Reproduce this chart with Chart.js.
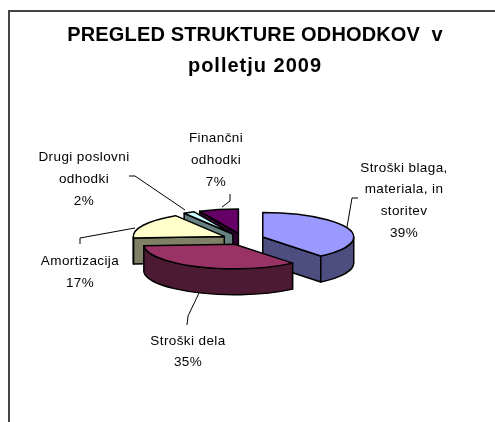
<!DOCTYPE html>
<html>
<head>
<meta charset="utf-8">
<style>
  html, body { margin: 0; padding: 0; background: #fff; overflow: hidden; }
  #wrap { position: relative; width: 495px; height: 422px; }
  #frame { position: absolute; left: 8px; top: 10px; right: 0; bottom: 0; border-left: 2px solid #444; border-top: 2px solid #444; }
  canvas { position: absolute; left: 0; top: 0; }
</style>
<script src="https://cdn.jsdelivr.net/npm/chart.js@4/dist/chart.umd.min.js"></script>
</head>
<body>
<div id="wrap">
  <div id="frame"></div>
  <canvas id="pieChart" width="495" height="422"></canvas>
</div>
<script>
const titleLines = ['PREGLED STRUKTURE ODHODKOV  v', 'polletju 2009'];
const categories = ['Stroški blaga, materiala, in storitev', 'Stroški dela', 'Amortizacija', 'Drugi poslovni odhodki', 'Finančni odhodki'];
const values = [39, 35, 17, 2, 7];
const labelLines = [
  ['Stroški blaga,', 'materiala, in', 'storitev'],
  ['Stroški dela'],
  ['Amortizacija'],
  ['Drugi poslovni', 'odhodki'],
  ['Finančni', 'odhodki']
];
const topColors = ['#9999ff', '#993366', '#ffffcc', '#ccffff', '#660066'];
const sideColors = ['#4d4d80', '#4d1a33', '#808066', '#668080', '#330033'];

// where each label sits: center x, y of every line (percent is the last one)
const labelX = [404, 188, 80, 84, 216];
const labelY = [[168, 189, 211, 233], [341, 362], [261, 283], [157, 179, 201], [138, 160, 182]];
const leaders = [
  [[347, 227], [352, 198], [358, 198]],
  [[199, 293], [188, 316], [187, 325]],
  [[135, 228], [80, 238], [80, 244]],
  [[185, 210], [135, 176], [129, 176]],
  [[222, 207], [230, 201], [230, 194]]
];

const squash = 0.27;    // flatten the pie into an ellipse
const depth = 26;       // height of the side walls

function sliceCenter(arc) {
  const mid = (arc.startAngle + arc.endAngle) / 2;
  return {
    x: arc.x + Math.cos(mid) * arc.options.offset,
    y: arc.y + Math.sin(mid) * arc.options.offset * squash
  };
}

function paint(ctx, fill) {
  ctx.closePath();
  ctx.fillStyle = fill;
  ctx.fill();
  ctx.lineWidth = 1.5;
  ctx.strokeStyle = '#000';
  ctx.lineJoin = 'round';
  ctx.stroke();
}

function radialWall(ctx, arc, angle, fill) {
  const c = sliceCenter(arc);
  const px = c.x + Math.cos(angle) * arc.outerRadius;
  const py = c.y + Math.sin(angle) * arc.outerRadius * squash;
  ctx.beginPath();
  ctx.moveTo(c.x, c.y);
  ctx.lineTo(px, py);
  ctx.lineTo(px, py + depth);
  ctx.lineTo(c.x, c.y + depth);
  paint(ctx, fill);
}

function drawSlice(ctx, arc, i) {
  const start = arc.startAngle;
  const end = arc.endAngle;
  const c = sliceCenter(arc);
  const rx = arc.outerRadius;
  const ry = arc.outerRadius * squash;

  // only the walls that face the viewer
  if (Math.cos(start) < -0.001) radialWall(ctx, arc, start, sideColors[i]);
  if (Math.cos(end) > 0.001) radialWall(ctx, arc, end, sideColors[i]);

  const from = Math.max(start, 0);
  const to = Math.min(end, Math.PI);
  if (to > from) {
    ctx.beginPath();
    ctx.ellipse(c.x, c.y, rx, ry, 0, from, to);
    ctx.ellipse(c.x, c.y + depth, rx, ry, 0, to, from, true);
    paint(ctx, sideColors[i]);
  }

  ctx.beginPath();
  ctx.moveTo(c.x, c.y);
  ctx.ellipse(c.x, c.y, rx, ry, 0, start, end);
  paint(ctx, topColors[i]);
}

const pie3d = {
  id: 'pie3d',
  beforeDatasetDraw(chart) {
    const ctx = chart.ctx;
    const arcs = chart.getDatasetMeta(0).data;
    // back slices first
    const order = arcs.map((a, i) => i).sort((a, b) => {
      const midA = (arcs[a].startAngle + arcs[a].endAngle) / 2;
      const midB = (arcs[b].startAngle + arcs[b].endAngle) / 2;
      return Math.sin(midA) - Math.sin(midB);
    });
    ctx.save();
    order.forEach(i => drawSlice(ctx, arcs[i], i));
    ctx.restore();
    return false;
  },
  afterDraw(chart) {
    const ctx = chart.ctx;
    ctx.save();
    ctx.textAlign = 'center';
    ctx.textBaseline = 'middle';
    ctx.fillStyle = '#000';

    ctx.font = 'bold 20px "Liberation Sans"';
    ctx.letterSpacing = '0.15px';
    ctx.fillText(titleLines[0], 255, 35);
    ctx.letterSpacing = '1px';
    ctx.fillText(titleLines[1], 255, 66);

    ctx.font = '13.5px "Liberation Sans"';
    ctx.letterSpacing = '0.4px';
    values.forEach((v, i) => {
      const lines = labelLines[i].concat(v + '%');
      lines.forEach((line, j) => ctx.fillText(line, labelX[i], labelY[i][j]));
    });

    ctx.strokeStyle = '#000';
    ctx.lineWidth = 1;
    leaders.forEach(pts => {
      ctx.beginPath();
      pts.forEach((p, j) => j ? ctx.lineTo(p[0], p[1]) : ctx.moveTo(p[0], p[1]));
      ctx.stroke();
    });
    ctx.restore();
  }
};

new Chart(document.getElementById('pieChart').getContext('2d'), {
  type: 'pie',
  data: {
    labels: categories,
    datasets: [{
      data: values,
      backgroundColor: topColors,
      radius: 91,
      offset: 21,
      borderWidth: 0
    }]
  },
  options: {
    responsive: false,
    animation: false,
    // puts the pie center at about 243, 239
    layout: { padding: { left: 0, right: 9, top: 56, bottom: 0 } },
    plugins: {
      legend: { display: false },
      title: { display: false },
      tooltip: { enabled: false }
    }
  },
  plugins: [pie3d]
});
</script>
</body>
</html>
